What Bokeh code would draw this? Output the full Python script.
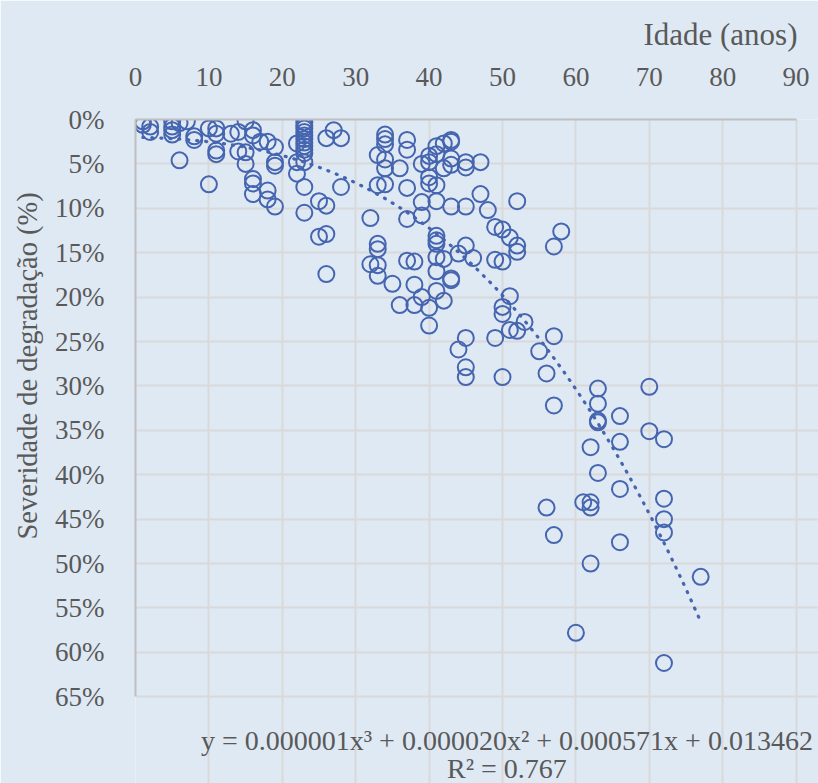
import numpy as np
from bokeh.plotting import figure
from bokeh.models import Range1d, FixedTicker, NumeralTickFormatter, Title, Label, ColumnDataSource
from bokeh.embed import file_html
from bokeh.resources import INLINE

# ---- data: idade (anos) and severidade de degradação (fraction) ----
idade = [
    1, 1, 2, 2, 5, 5, 5, 5, 6, 7, 8, 8, 6,
    10, 11, 11, 11, 11, 10,
    13, 14, 15, 16, 16, 17, 18, 19,
    14, 15, 15, 19, 19,
    16, 16, 16, 18, 18, 19,
    23, 23, 23, 23, 23, 23, 23, 23, 23, 23,
    22, 22, 22, 23, 23, 23,
    26, 27, 28, 28, 25, 26, 25, 26, 26,
    32, 33, 34, 34, 34, 34, 34, 33, 34, 36, 37, 37, 37, 37,
    33, 33, 32, 33, 33, 35, 37, 38, 38, 36, 38,
    39, 40, 40, 40, 40, 41,
    41, 41,
    42, 42, 43, 43, 43, 43, 45, 45, 47, 47,
    39, 41, 43, 45, 48, 52, 39,
    41, 41, 41, 41, 42, 44, 45, 46,
    41, 43, 43, 41, 42, 39, 40, 40,
    49, 50, 51, 52, 52, 57, 58,
    49, 50, 51, 50, 50, 51, 52, 53,
    49, 45, 44, 45, 45, 50, 55, 57, 56, 57,
    63, 63, 63, 63, 66, 66, 62, 70, 70, 72,
    63, 66, 61, 62, 62, 56, 72, 72, 72, 57, 66, 62, 77, 60, 72,
]
severidade_pct = [
    0.2, 0.6, 0.8, 1.4, 0.2, 0.8, 1.2, 1.7, 0.4, 0.2, 1.9, 2.3, 4.6,
    1.0, 1.0, 1.6, 3.5, 3.9, 7.3,
    1.6, 1.4, 0.2, 1.2, 1.8, 2.5, 2.5, 3.1,
    3.6, 3.7, 5.0, 4.8, 5.2,
    6.7, 7.2, 8.4, 8.0, 9.0, 9.8,
    0.3, 0.7, 1.0, 1.4, 1.8, 2.2, 2.6, 3.0, 3.4, 3.8,
    2.7, 4.8, 6.1, 4.8, 7.6, 10.5,
    2.1, 1.2, 2.1, 7.6, 9.2, 9.7, 13.2, 12.9, 17.4,
    11.1, 4.0, 1.7, 2.2, 2.8, 4.5, 5.5, 7.4, 7.3, 5.5, 2.3, 3.4, 7.7, 11.2,
    14.0, 14.6, 16.3, 16.4, 17.6, 18.5, 15.9, 16.0, 18.6, 20.9, 20.9,
    5.0, 4.1, 4.8, 6.5, 7.2, 7.4,
    3.0, 3.9,
    2.7, 5.5, 2.3, 2.5, 4.4, 5.1, 4.8, 5.4, 4.8, 8.4,
    9.3, 9.2, 9.8, 9.8, 10.2, 9.2, 10.8,
    13.1, 13.6, 14.0, 15.5, 15.7, 15.1, 14.2, 15.6,
    17.1, 17.9, 18.1, 19.3, 20.4, 20.0, 21.2, 23.2,
    12.1, 12.4, 13.3, 14.2, 14.9, 14.3, 12.6,
    15.8, 16.0, 19.9, 21.1, 21.9, 23.7, 23.8, 22.8,
    24.6, 24.6, 25.9, 27.9, 29.0, 29.0, 26.1, 24.4, 28.6, 32.2,
    30.3, 32.0, 33.9, 34.1, 33.4, 36.3, 36.9, 30.1, 35.1, 36.0,
    39.8, 41.6, 43.1, 43.1, 43.7, 43.7, 42.7, 45.0, 46.5, 46.8, 47.6, 50.0, 51.5, 57.8, 61.2,
]
x_ticks = [0, 10, 20, 30, 40, 50, 60, 70, 80, 90]
y_ticks = [0.00, 0.05, 0.10, 0.15, 0.20, 0.25, 0.30, 0.35, 0.40, 0.45, 0.50, 0.55, 0.60, 0.65]
equation_text = "y = 0.000001x\u00b3 + 0.000020x\u00b2 + 0.000571x + 0.013462"
r2_text = "R\u00b2 = 0.767"
x_title = "Idade (anos)"
y_title = "Severidade de degradação (%)"

severidade = [v / 100.0 for v in severidade_pct]

# cubic trendline fitted to the points
coef = np.polyfit(np.array(idade, float), np.array(severidade), 3)
tx = np.linspace(min(idade), max(idade), 200)
ty = np.polyval(coef, tx)

BG = "#dfe9f4"
BLUE = "#4565b0"
GRAY_TXT = "#595959"
FONT = "Liberation Serif"
X_AXIS_MAX = x_ticks[-1]
Y_AXIS_MAX = y_ticks[-1]
# the frame continues right of 90 and below 65% to hold the trendline equation
X_VIEW_RIGHT = 93.05
Y_VIEW_BOTTOM = 0.7477

p = figure(width=818, height=783, output_backend="svg", toolbar_location=None, title=None,
           x_range=Range1d(0, X_VIEW_RIGHT), y_range=Range1d(Y_VIEW_BOTTOM, 0.0),
           x_axis_location="above",
           min_border_left=135, min_border_right=0, min_border_top=119, min_border_bottom=0)
p.background_fill_color = BG
p.border_fill_color = BG
p.outline_line_color = None

p.xaxis.ticker = FixedTicker(ticks=x_ticks)
p.yaxis.ticker = FixedTicker(ticks=y_ticks)
p.yaxis.formatter = NumeralTickFormatter(format="0%")
p.xaxis.bounds = (0, X_AXIS_MAX)
p.yaxis.bounds = (0, Y_AXIS_MAX)
for ax in (p.xaxis, p.yaxis):
    ax.major_tick_line_color = None
    ax.minor_tick_line_color = None
    ax.major_tick_out = 0
    ax.major_tick_in = 0
    ax.minor_tick_out = 0
    ax.axis_line_color = "#bfbfbf"
    ax.axis_line_width = 2
    ax.major_label_text_font = FONT
    ax.major_label_text_font_size = "27px"
    ax.major_label_text_color = GRAY_TXT
p.xaxis.major_label_standoff = 34
p.yaxis.major_label_standoff = 31

p.xgrid.ticker = FixedTicker(ticks=x_ticks)
p.ygrid.ticker = FixedTicker(ticks=y_ticks)
p.xgrid.bounds = (0, Y_AXIS_MAX)
p.ygrid.bounds = (0, X_AXIS_MAX)
p.xgrid.grid_line_color = "#d9d9d9"
p.ygrid.grid_line_color = "#d9d9d9"
p.xgrid.grid_line_width = 2
p.ygrid.grid_line_width = 2

src = ColumnDataSource(dict(x=idade, y=severidade))
p.scatter("x", "y", source=src, marker="circle", size=16, fill_color=None,
          line_color=BLUE, line_width=2)

p.line(tx, ty, line_color=BLUE, line_width=3.2, line_dash="1 8", line_cap="round")

# axis titles
p.add_layout(Title(text=x_title, align="right", offset=21, standoff=26,
                   text_font=FONT, text_font_size="31px", text_font_style="normal",
                   text_color=GRAY_TXT), "above")
p.add_layout(Title(text=y_title, align="left", offset=244, standoff=16, vertical_align="top",
                   text_font=FONT, text_font_size="28.5px", text_font_style="normal",
                   text_color=GRAY_TXT), "left")

# trendline equation
p.add_layout(Label(x=50.6, y=0.6993, text=equation_text, text_align="center", text_baseline="middle",
                   text_font=FONT, text_font_size="28px", text_color=GRAY_TXT))
p.add_layout(Label(x=50.6, y=0.7309, text=r2_text, text_align="center", text_baseline="middle",
                   text_font=FONT, text_font_size="28px", text_color=GRAY_TXT))

open("out.html", "w").write(file_html(p, INLINE))
